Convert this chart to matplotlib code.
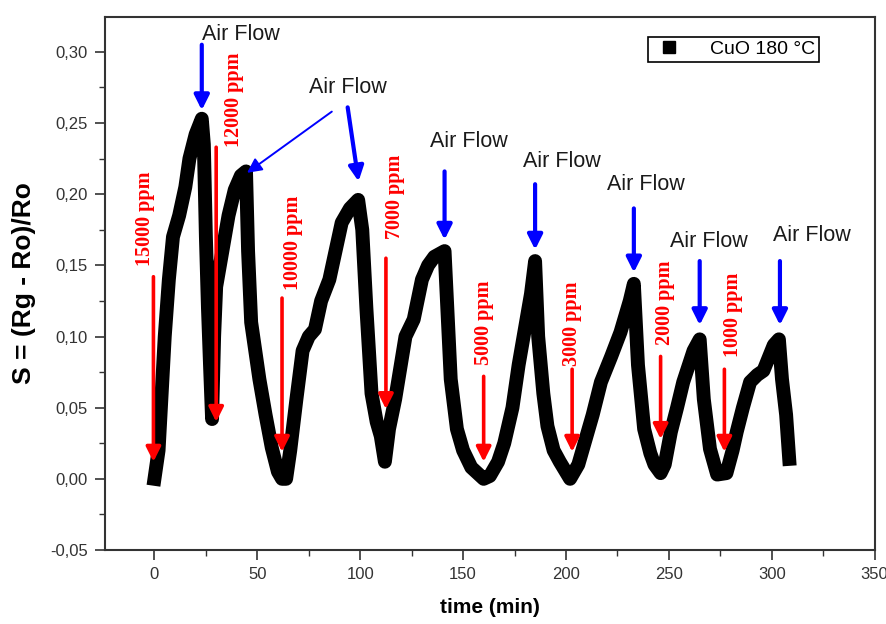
"""Отклик сенсора CuO при 180 °C на разные концентрации газа."""

import matplotlib
matplotlib.use("Agg")
import matplotlib.pyplot as plt
from matplotlib.lines import Line2D
from matplotlib.ticker import MultipleLocator, FuncFormatter

# --- данные ---
time_min = [0, 2, 3.5, 5, 7, 9, 12, 15, 17, 20, 23, 24, 25, 26, 27, 28, 29, 30,
            33, 36, 39, 42, 44.5, 45.5, 47, 51, 54, 57, 60, 62, 64, 66, 69, 72,
            75, 78, 81, 85, 88, 91, 95, 99, 101, 103, 105.5, 108, 110, 112, 114,
            117, 122, 126, 130, 133, 136, 141, 142, 144, 147, 150, 154, 157, 160,
            163, 167, 170, 174, 177, 180, 183, 185, 186.5, 189, 191, 194, 197,
            202, 206, 210, 213, 217, 222, 226.5, 231, 233, 235, 238, 241, 243,
            246, 248, 251, 254, 257, 262, 265, 267, 270, 273.5, 278, 281, 283,
            286, 289.5, 293, 296, 301, 303.5, 305, 307, 308.5]
response = [0.00, 0.02, 0.06, 0.10, 0.14, 0.17, 0.185, 0.205, 0.225, 0.242,
            0.253, 0.235, 0.17, 0.12, 0.08, 0.042, 0.10, 0.135, 0.16, 0.185,
            0.203, 0.213, 0.216, 0.16, 0.11, 0.07, 0.045, 0.022, 0.005, 0.0,
            0.0, 0.02, 0.056, 0.09, 0.10, 0.105, 0.125, 0.14, 0.16, 0.18,
            0.190, 0.196, 0.175, 0.12, 0.06, 0.04, 0.03, 0.012, 0.035, 0.056,
            0.10, 0.112, 0.14, 0.15, 0.156, 0.160, 0.13, 0.07, 0.035, 0.02,
            0.008, 0.004, 0.0, 0.002, 0.012, 0.025, 0.05, 0.08, 0.105, 0.13,
            0.153, 0.10, 0.06, 0.037, 0.02, 0.012, 0.0, 0.01, 0.03, 0.045,
            0.068, 0.086, 0.103, 0.125, 0.137, 0.08, 0.035, 0.018, 0.01, 0.004,
            0.01, 0.033, 0.05, 0.068, 0.09, 0.098, 0.056, 0.021, 0.003, 0.004,
            0.02, 0.033, 0.05, 0.068, 0.073, 0.076, 0.094, 0.098, 0.07, 0.045,
            0.014]

# концентрации: подпись, время стрелки, начало/конец стрелки, центр подписи (t, S)
ppm_labels = ["15000 ppm", "12000 ppm", "10000 ppm", "7000 ppm",
              "5000 ppm", "3000 ppm", "2000 ppm", "1000 ppm"]
ppm_arrow_t = [-0.5, 30, 62, 112.5, 160, 203, 246, 277]
ppm_arrow_top = [0.142, 0.233, 0.127, 0.155, 0.072, 0.077, 0.086, 0.077]
ppm_arrow_tip = [0.012, 0.040, 0.019, 0.049, 0.012, 0.019, 0.028, 0.019]
ppm_text_t = [-4.4, 38.5, 67.3, 117, 160, 203, 248, 281]
ppm_text_s = [0.183, 0.266, 0.166, 0.198, 0.110, 0.109, 0.124, 0.115]

# подача воздуха: подпись (левый край), вертикальные стрелки
air_text_t = [23.2, 75, 134, 179, 220, 250.7, 300.6]
air_text_s = [0.312, 0.275, 0.237, 0.223, 0.207, 0.167, 0.171]
air_arrow_t = [23, 141, 185, 233, 265, 304]
air_arrow_top = [0.305, 0.216, 0.207, 0.190, 0.153, 0.153]
air_arrow_tip = [0.259, 0.168, 0.161, 0.145, 0.108, 0.108]
# две наклонные стрелки от второй подписи
air_slant_from = [(86.2, 0.258), (93.9, 0.261)]
air_slant_to = [(45.0, 0.215), (99.2, 0.209)]
# -------------------------

SANS = "Liberation Sans"
SERIF = "Liberation Serif"


def main() -> None:
    plt.rcParams["font.family"] = [SANS, "DejaVu Sans"]

    fig = plt.figure(figsize=(8.87, 6.24), dpi=100)
    ax = fig.add_axes([0.118, 0.1186, 0.868, 0.8542])

    ax.plot(time_min, response, color="black", lw=10,
            solid_joinstyle="round", solid_capstyle="projecting", zorder=2)

    # красные стрелки и подписи концентраций
    for lab, t, top, tip, tx, ts in zip(ppm_labels, ppm_arrow_t, ppm_arrow_top,
                                        ppm_arrow_tip, ppm_text_t, ppm_text_s):
        ax.annotate("", xy=(t, tip), xytext=(t, top),
                    arrowprops=dict(arrowstyle="-|>", color="red", lw=2.6,
                                    mutation_scale=22, shrinkA=0, shrinkB=0),
                    zorder=3)
        ax.text(tx, ts, lab, rotation=90, ha="center", va="center",
                color="red", fontsize=14.5, fontweight="bold", family=SERIF)

    # синие стрелки "Air Flow"
    for tx, ts in zip(air_text_t, air_text_s):
        ax.text(tx, ts, "Air Flow", ha="left", va="center", fontsize=15.5,
                color="#1a1a1a")
    for t, top, tip in zip(air_arrow_t, air_arrow_top, air_arrow_tip):
        ax.annotate("", xy=(t, tip), xytext=(t, top),
                    arrowprops=dict(arrowstyle="-|>", color="blue", lw=3,
                                    mutation_scale=22, shrinkA=0, shrinkB=0),
                    zorder=3)
    for (x0, y0), (x1, y1), w in zip(air_slant_from, air_slant_to, [1.4, 3]):
        ax.annotate("", xy=(x1, y1), xytext=(x0, y0),
                    arrowprops=dict(arrowstyle="-|>", color="blue", lw=w,
                                    mutation_scale=22, shrinkA=0, shrinkB=0),
                    zorder=3)

    ax.set_xlim(-24.2, 350)
    ax.set_ylim(-0.05, 0.3245)
    ax.xaxis.set_major_locator(MultipleLocator(50))
    ax.xaxis.set_minor_locator(MultipleLocator(25))
    ax.yaxis.set_major_locator(MultipleLocator(0.05))
    ax.yaxis.set_minor_locator(MultipleLocator(0.025))
    ax.yaxis.set_major_formatter(
        FuncFormatter(lambda v, _: f"{v:.2f}".replace(".", ",").replace("-0,00", "0,00")))
    ax.tick_params(which="both", direction="out", top=False, right=False,
                   labelsize=12, colors="#333333", labelcolor="#333333")
    ax.tick_params(which="major", length=7, width=1.2, pad=5)
    ax.tick_params(which="minor", length=4, width=1.0)
    for sp in ax.spines.values():
        sp.set_linewidth(1.5)
        sp.set_color("#333333")

    ax.set_xlabel("time (min)", fontsize=15, fontweight="bold", labelpad=12)
    ax.set_ylabel("S = (Rg - Ro)/Ro", fontsize=19, fontweight="bold", labelpad=10)

    handle = Line2D([], [], marker="s", color="black", linestyle="none",
                    markersize=8)
    leg = ax.legend([handle], ["CuO 180 °C"], loc="upper right",
                    bbox_to_anchor=(0.928, 0.963), borderaxespad=0,
                    fancybox=False, framealpha=1, edgecolor="black",
                    fontsize=14, handletextpad=1.2, borderpad=0.2,
                    handlelength=1.8)
    leg.get_frame().set_linewidth(1.2)

    fig.savefig("out.png", dpi=100)


if __name__ == "__main__":
    main()
